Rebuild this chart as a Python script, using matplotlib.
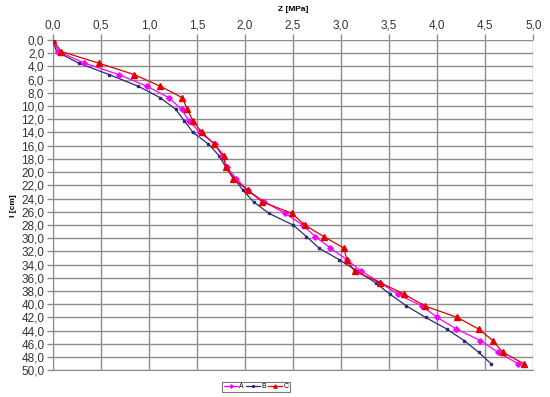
import numpy as np
import matplotlib
matplotlib.use('Agg')
import matplotlib.pyplot as plt
from matplotlib.ticker import FuncFormatter, MultipleLocator

# Data (depth l in cm, stress Z in MPa)

depth = [0.0, 1.75, 3.5, 5.25, 7.0, 8.75, 10.5, 12.25, 14.0, 15.75, 17.5,
         19.25, 21.0, 22.75, 24.5, 26.25, 28.0, 29.75, 31.5, 33.25, 35.0,
         36.75, 38.5, 40.25, 42.0, 43.75, 45.5, 47.25, 49.0]

z_a = [0.0, 0.06, 0.33, 0.69, 0.98, 1.21, 1.34, 1.42, 1.53, 1.69, 1.76,
       1.81, 1.91, 2.03, 2.20, 2.42, 2.60, 2.73, 2.89, 3.06, 3.21,
       3.41, 3.59, 3.84, 4.00, 4.20, 4.45, 4.63, 4.84]

z_b = [0.0, 0.04, 0.27, 0.59, 0.89, 1.12, 1.28, 1.37, 1.46, 1.62, 1.73,
       1.80, 1.89, 1.98, 2.09, 2.25, 2.50, 2.64, 2.77, 2.98, 3.17,
       3.36, 3.51, 3.68, 3.88, 4.10, 4.28, 4.43, 4.56]

z_c = [0.0, 0.09, 0.48, 0.85, 1.12, 1.35, 1.40, 1.46, 1.55, 1.68, 1.78,
       1.80, 1.88, 2.03, 2.18, 2.49, 2.62, 2.82, 3.03, 3.06, 3.14,
       3.41, 3.66, 3.87, 4.21, 4.43, 4.58, 4.68, 4.90]

series_names = ['A', 'B', 'C']

plt.rcParams['font.family'] = ['Liberation Sans', 'DejaVu Sans']

fig = plt.figure(figsize=(5.5, 3.97), dpi=100)
ax = fig.add_axes([52.7 / 550, 26.7 / 397, 480.6 / 550, 330.3 / 397])

ax.plot(z_a, depth, color='#ff00ff', lw=0.9, marker='D', ms=2.8,
        label=series_names[0], zorder=4)
ax.plot(z_b, depth, color='#2a2a7a', lw=0.9, marker='s', ms=2.0,
        label=series_names[1], zorder=3)
ax.plot(z_c, depth, color='#e00000', lw=0.9, marker='^', ms=4.0,
        label=series_names[2], zorder=5)

ax.set_xlim(0, 5)
ax.set_ylim(50, 0)
ax.xaxis.set_major_locator(MultipleLocator(0.5))
ax.yaxis.set_major_locator(MultipleLocator(2))
comma = FuncFormatter(lambda v, p: f'{v:.1f}'.replace('.', ','))
ax.xaxis.set_major_formatter(comma)
ax.yaxis.set_major_formatter(comma)
ax.xaxis.tick_top()
ax.xaxis.set_label_position('top')

ax.grid(True, color='#8c8c8c', lw=1.0)
ax.set_axisbelow(True)
for side in ['top', 'right']:
    ax.spines[side].set_visible(False)
for side in ['left', 'bottom']:
    ax.spines[side].set_color('#8c8c8c')
ax.tick_params(axis='both', length=4, width=1.0, color='#8c8c8c',
               labelsize=8.5, labelcolor='#333333', pad=2)
ax.tick_params(axis='x', top=True, bottom=False)

ax.set_xlabel('Z [MPa]', fontsize=6, fontweight='bold', labelpad=6)
ax.set_ylabel('l [cm]', fontsize=6, fontweight='bold', labelpad=3)

# legend box sits below the plot, centred near x=256 px, y=387 px
leg = fig.legend(loc='center', bbox_to_anchor=(256 / 550, 1 - 387 / 397),
                 ncol=3, fontsize=5, frameon=True, fancybox=False,
                 handlelength=2.0, handletextpad=0.2, columnspacing=0.3,
                 borderpad=0.25, markerscale=0.6)
leg.get_frame().set_edgecolor('#555555')
leg.get_frame().set_linewidth(0.8)

fig.savefig('out.png', dpi=100)
